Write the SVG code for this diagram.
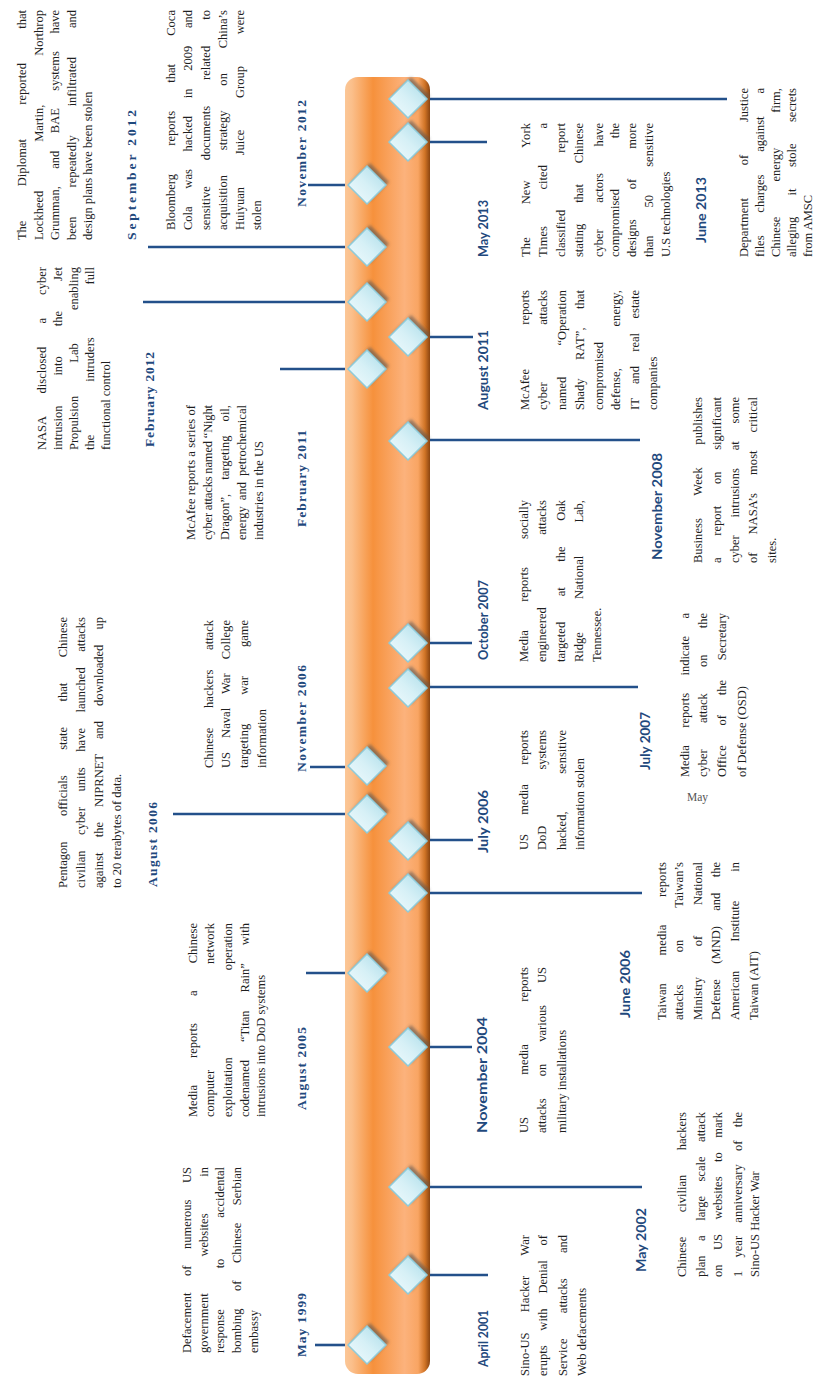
<svg xmlns="http://www.w3.org/2000/svg" width="822" height="1380" viewBox="0 0 822 1380">
<defs>
<style>
.t{font-family:"Liberation Serif","Times New Roman",serif;font-size:12.5px;fill:#1e1e1e}
.ls{font-family:"Liberation Serif","Times New Roman",serif;font-weight:bold;font-size:13.5px;fill:#1f497d}
.lb{font-family:Lato,"Open Sans",sans-serif;font-weight:bold;font-size:13px;fill:#1f497d}
.c{stroke:#23508a;stroke-width:2.6;fill:none}
</style>
<linearGradient id="barG" x1="0" y1="0" x2="0" y2="1">
<stop offset="0" stop-color="#fbc797"/>
<stop offset="0.08" stop-color="#fbbf8b"/>
<stop offset="0.33" stop-color="#f6913c"/>
<stop offset="0.7" stop-color="#fcb27c"/>
<stop offset="0.86" stop-color="#f9a563"/>
<stop offset="0.94" stop-color="#d07426"/>
<stop offset="1" stop-color="#8a4410"/>
</linearGradient>
<linearGradient id="diaG" x1="0" y1="0" x2="1" y2="1">
<stop offset="0" stop-color="#f2fbfd"/>
<stop offset="0.5" stop-color="#d6f0f6"/>
<stop offset="1" stop-color="#a9dbe8"/>
</linearGradient>
<filter id="sh" x="-50%" y="-50%" width="200%" height="200%"><feGaussianBlur stdDeviation="1.4"/></filter>
<g id="dia">
<polygon points="3,-16 22,3 3,22 -16,3" fill="#555" opacity="0.6" filter="url(#sh)"/>
<polygon points="0,-19 19,0 0,19 -19,0" fill="url(#diaG)" stroke="#8fcbd9" stroke-width="1.5"/>
</g>
</defs>
<rect width="822" height="1380" fill="#ffffff"/>
<g transform="matrix(0,-1,1,0,0,1380)">
<g id="timeline-bar">
<rect x="6" y="345" width="1297" height="85" rx="13" fill="url(#barG)"/>
</g>
<g id="connectors">
<line class="c" x1="35" y1="345" x2="35" y2="315"/>
<line class="c" x1="407" y1="345" x2="407" y2="306"/>
<line class="c" x1="566" y1="345" x2="566" y2="173"/>
<line class="c" x1="613" y1="345" x2="613" y2="310"/>
<line class="c" x1="1011" y1="345" x2="1011" y2="280"/>
<line class="c" x1="1078" y1="345" x2="1078" y2="143"/>
<line class="c" x1="1133" y1="345" x2="1133" y2="148"/>
<line class="c" x1="1195" y1="345" x2="1195" y2="308"/>
<line class="c" x1="105" y1="430" x2="105" y2="488"/>
<line class="c" x1="193" y1="430" x2="193" y2="642"/>
<line class="c" x1="333" y1="430" x2="333" y2="472"/>
<line class="c" x1="487" y1="430" x2="487" y2="642"/>
<line class="c" x1="540" y1="430" x2="540" y2="473"/>
<line class="c" x1="693" y1="430" x2="693" y2="638"/>
<line class="c" x1="737" y1="430" x2="737" y2="472"/>
<line class="c" x1="940" y1="430" x2="940" y2="640"/>
<line class="c" x1="1043" y1="430" x2="1043" y2="473"/>
<line class="c" x1="1238" y1="430" x2="1238" y2="487"/>
<line class="c" x1="1281" y1="430" x2="1281" y2="727"/>
</g>

<g id="ev-1999-05">
<use href="#dia" x="35" y="367"/>
<text class="ls" x="23" y="306" textLength="64" lengthAdjust="spacing">May 1999</text>
<text class="t" x="27" y="191" word-spacing="13.5" textLength="186" lengthAdjust="spacing">Defacement of numerous US</text>
<text class="t" x="27" y="208" word-spacing="33.6" textLength="186" lengthAdjust="spacing">government websites in</text>
<text class="t" x="27" y="224" word-spacing="37.8" textLength="186" lengthAdjust="spacing">response to accidental</text>
<text class="t" x="27" y="241" word-spacing="14.4" textLength="186" lengthAdjust="spacing">bombing of Chinese Serbian</text>
<text class="t" x="27" y="258">embassy</text>
</g>

<g id="ev-2001-04">
<use href="#dia" x="105" y="408"/>
<text class="lb" x="13" y="488" textLength="57" lengthAdjust="spacingAndGlyphs">April 2001</text>
<text class="t" x="4" y="529" word-spacing="17" textLength="141" lengthAdjust="spacing">Sino-US Hacker War</text>
<text class="t" x="4" y="547" word-spacing="11.7" textLength="141" lengthAdjust="spacing">erupts with Denial of</text>
<text class="t" x="4" y="567" word-spacing="22.2" textLength="141" lengthAdjust="spacing">Service attacks and</text>
<text class="t" x="4" y="586">Web defacements</text>
</g>

<g id="ev-2002-05">
<use href="#dia" x="193" y="408"/>
<text class="lb" x="108" y="646" textLength="64" lengthAdjust="spacingAndGlyphs">May 2002</text>
<text class="t" x="103" y="686" word-spacing="21.4" textLength="165" lengthAdjust="spacing">Chinese civilian hackers</text>
<text class="t" x="103" y="705" word-spacing="11.4" textLength="165" lengthAdjust="spacing">plan a large scale attack</text>
<text class="t" x="103" y="722" word-spacing="11.4" textLength="165" lengthAdjust="spacing">on US websites to mark</text>
<text class="t" x="103" y="742" word-spacing="10.2" textLength="165" lengthAdjust="spacing">1 year anniversary of the</text>
<text class="t" x="103" y="759">Sino-US Hacker War</text>
</g>

<g id="ev-2004-11">
<use href="#dia" x="333" y="408"/>
<text class="lb" x="247" y="487" textLength="116" lengthAdjust="spacingAndGlyphs">November 2004</text>
<text class="t" x="247" y="528" word-spacing="39.3" textLength="166" lengthAdjust="spacing">US media reports</text>
<text class="t" x="247" y="546" word-spacing="18.9" textLength="166" lengthAdjust="spacing">attacks on various US</text>
<text class="t" x="247" y="566">military installations</text>
</g>

<g id="ev-2005-08">
<use href="#dia" x="407" y="367"/>
<text class="ls" x="270" y="306" textLength="83" lengthAdjust="spacing">August 2005</text>
<text class="t" x="263" y="197" word-spacing="24" textLength="194" lengthAdjust="spacing">Media reports a Chinese</text>
<text class="t" x="263" y="214" word-spacing="102.7" textLength="194" lengthAdjust="spacing">computer network</text>
<text class="t" x="263" y="232" word-spacing="83.9" textLength="194" lengthAdjust="spacing">exploitation operation</text>
<text class="t" x="263" y="249" word-spacing="14.8" textLength="194" lengthAdjust="spacing">codenamed “Titan Rain” with</text>
<text class="t" x="263" y="265">intrusions into DoD systems</text>
</g>

<g id="ev-2006-06">
<use href="#dia" x="487" y="408"/>
<text class="lb" x="362" y="630" textLength="68" lengthAdjust="spacingAndGlyphs">June 2006</text>
<text class="t" x="360" y="666" word-spacing="24.5" textLength="158" lengthAdjust="spacing">Taiwan media reports</text>
<text class="t" x="360" y="683" word-spacing="29" textLength="158" lengthAdjust="spacing">attacks on Taiwan’s</text>
<text class="t" x="360" y="702" word-spacing="27.6" textLength="158" lengthAdjust="spacing">Ministry of National</text>
<text class="t" x="360" y="720" word-spacing="12.3" textLength="158" lengthAdjust="spacing">Defense (MND) and the</text>
<text class="t" x="360" y="739" word-spacing="25.9" textLength="158" lengthAdjust="spacing">American Institute in</text>
<text class="t" x="360" y="758">Taiwan (AIT)</text>
</g>

<g id="ev-2006-07">
<use href="#dia" x="539" y="408"/>
<text class="lb" x="527" y="488" textLength="63" lengthAdjust="spacingAndGlyphs">July 2006</text>
<text class="t" x="530" y="528" word-spacing="16.3" textLength="120" lengthAdjust="spacing">US media reports</text>
<text class="t" x="530" y="546" word-spacing="53" textLength="120" lengthAdjust="spacing">DoD systems</text>
<text class="t" x="530" y="566" word-spacing="34.6" textLength="120" lengthAdjust="spacing">hacked, sensitive</text>
<text class="t" x="530" y="584">information stolen</text>
</g>

<g id="ev-2006-08">
<use href="#dia" x="566" y="367"/>
<text class="ls" x="493" y="157" textLength="85" lengthAdjust="spacing">August 2006</text>
<text class="t" x="492" y="67" word-spacing="22.3" textLength="271" lengthAdjust="spacing">Pentagon officials state that Chinese</text>
<text class="t" x="492" y="85" word-spacing="12.5" textLength="271" lengthAdjust="spacing">civilian cyber units have launched attacks</text>
<text class="t" x="492" y="103" word-spacing="12" textLength="271" lengthAdjust="spacing">against the NIPRNET and downloaded up</text>
<text class="t" x="492" y="121">to 20 terabytes of data.</text>
</g>

<g id="ev-2006-11">
<use href="#dia" x="614" y="367"/>
<text class="ls" x="608" y="306" textLength="107" lengthAdjust="spacing">November 2006</text>
<text class="t" x="612" y="213" word-spacing="16.7" textLength="148" lengthAdjust="spacing">Chinese hackers attack</text>
<text class="t" x="612" y="230" word-spacing="10.8" textLength="148" lengthAdjust="spacing">US Naval War College</text>
<text class="t" x="612" y="248" word-spacing="25.8" textLength="148" lengthAdjust="spacing">targeting war game</text>
<text class="t" x="612" y="266">information</text>
</g>

<g id="ev-2007-07">
<use href="#dia" x="692" y="408"/>
<text class="lb" x="610" y="650" textLength="58" lengthAdjust="spacingAndGlyphs">July 2007</text>
<text class="t" x="603" y="689" word-spacing="14.3" textLength="164" lengthAdjust="spacing">Media reports indicate a</text>
<text class="t" x="603" y="707" word-spacing="23.1" textLength="164" lengthAdjust="spacing">cyber attack on the</text>
<text class="t" x="603" y="726" word-spacing="16.6" textLength="164" lengthAdjust="spacing">Office of the Secretary</text>
<text class="t" x="603" y="746">of Defense (OSD)</text>
</g>

<g id="ev-2007-10">
<use href="#dia" x="737" y="408"/>
<text class="lb" x="720" y="488" textLength="80" lengthAdjust="spacingAndGlyphs">October 2007</text>
<text class="t" x="718" y="528" word-spacing="25.1" textLength="162" lengthAdjust="spacing">Media reports socially</text>
<text class="t" x="718" y="546" word-spacing="69.3" textLength="162" lengthAdjust="spacing">engineered attacks</text>
<text class="t" x="718" y="565" word-spacing="22.4" textLength="162" lengthAdjust="spacing">targeted at the Oak</text>
<text class="t" x="718" y="583" word-spacing="30.1" textLength="162" lengthAdjust="spacing">Ridge National Lab,</text>
<text class="t" x="718" y="601">Tennessee.</text>
</g>

<g id="ev-2008-11">
<use href="#dia" x="939" y="408"/>
<text class="lb" x="820" y="662" textLength="107" lengthAdjust="spacingAndGlyphs">November 2008</text>
<text class="t" x="817" y="702" word-spacing="19.5" textLength="166" lengthAdjust="spacing">Business Week publishes</text>
<text class="t" x="817" y="721" word-spacing="18.7" textLength="166" lengthAdjust="spacing">a report on significant</text>
<text class="t" x="817" y="739" word-spacing="14.7" textLength="166" lengthAdjust="spacing">cyber intrusions at some</text>
<text class="t" x="817" y="757" word-spacing="14.7" textLength="166" lengthAdjust="spacing">of NASA’s most critical</text>
<text class="t" x="817" y="776">sites.</text>
</g>

<g id="ev-2011-02">
<use href="#dia" x="1011" y="367"/>
<text class="ls" x="853" y="306" textLength="97" lengthAdjust="spacing">February 2011</text>
<text class="t" x="840" y="195" textLength="135" lengthAdjust="spacing">McAfee reports a series of</text>
<text class="t" x="840" y="212" textLength="135" lengthAdjust="spacing">cyber attacks named “Night</text>
<text class="t" x="840" y="229" word-spacing="10.9" textLength="135" lengthAdjust="spacing">Dragon”, targeting oil,</text>
<text class="t" x="840" y="246" word-spacing="2.9" textLength="135" lengthAdjust="spacing">energy and petrochemical</text>
<text class="t" x="840" y="263">industries in the US</text>
</g>

<g id="ev-2011-08">
<use href="#dia" x="1043" y="408"/>
<text class="lb" x="970" y="488" textLength="80" lengthAdjust="spacingAndGlyphs">August 2011</text>
<text class="t" x="970" y="529" word-spacing="41.2" textLength="120" lengthAdjust="spacing">McAfee reports</text>
<text class="t" x="970" y="547" word-spacing="54.4" textLength="120" lengthAdjust="spacing">cyber attacks</text>
<text class="t" x="970" y="566" word-spacing="28" textLength="120" lengthAdjust="spacing">named “Operation</text>
<text class="t" x="970" y="584" word-spacing="15" textLength="120" lengthAdjust="spacing">Shady RAT”, that</text>
<text class="t" x="970" y="603">compromised</text>
<text class="t" x="970" y="620" word-spacing="38.4" textLength="120" lengthAdjust="spacing">defense, energy,</text>
<text class="t" x="970" y="639" word-spacing="11.2" textLength="120" lengthAdjust="spacing">IT and real estate</text>
<text class="t" x="970" y="657">companies</text>
</g>

<g id="ev-2012-02">
<use href="#dia" x="1078" y="367"/>
<text class="ls" x="933" y="154" textLength="95" lengthAdjust="spacing">February 2012</text>
<text class="t" x="930" y="46" word-spacing="19.9" textLength="183" lengthAdjust="spacing">NASA disclosed a cyber</text>
<text class="t" x="930" y="62" word-spacing="26.9" textLength="183" lengthAdjust="spacing">intrusion into the Jet</text>
<text class="t" x="930" y="78" word-spacing="30" textLength="183" lengthAdjust="spacing">Propulsion Lab enabling</text>
<text class="t" x="930" y="94" word-spacing="49.8" textLength="183" lengthAdjust="spacing">the intruders full</text>
<text class="t" x="930" y="110">functional control</text>
</g>

<g id="ev-2012-09">
<use href="#dia" x="1133" y="367"/>
<text class="ls" x="1140" y="136" textLength="130" lengthAdjust="spacing">September 2012</text>
<text class="t" x="1140" y="26" word-spacing="31.2" textLength="230" lengthAdjust="spacing">The Diplomat reported that</text>
<text class="t" x="1140" y="42.5" word-spacing="45.8" textLength="230" lengthAdjust="spacing">Lockheed Martin, Northrop</text>
<text class="t" x="1140" y="59" word-spacing="14.4" textLength="230" lengthAdjust="spacing">Grumman, and BAE systems have</text>
<text class="t" x="1140" y="75.5" word-spacing="25.9" textLength="230" lengthAdjust="spacing">been repeatedly infiltrated and</text>
<text class="t" x="1140" y="92">design plans have been stolen</text>
</g>

<g id="ev-2012-11">
<use href="#dia" x="1195" y="367"/>
<text class="ls" x="1173" y="306" textLength="107" lengthAdjust="spacing">November 2012</text>
<text class="t" x="1150" y="175" word-spacing="25.1" textLength="220" lengthAdjust="spacing">Bloomberg reports that Coca</text>
<text class="t" x="1150" y="192" word-spacing="14.6" textLength="220" lengthAdjust="spacing">Cola was hacked in 2009 and</text>
<text class="t" x="1150" y="209.5" word-spacing="23" textLength="220" lengthAdjust="spacing">sensitive documents related to</text>
<text class="t" x="1150" y="227" word-spacing="21.6" textLength="220" lengthAdjust="spacing">acquisition strategy on China’s</text>
<text class="t" x="1150" y="244" word-spacing="28.6" textLength="220" lengthAdjust="spacing">Huiyuan Juice Group were</text>
<text class="t" x="1150" y="261">stolen</text>
</g>

<g id="ev-2013-05">
<use href="#dia" x="1238" y="408"/>
<text class="lb" x="1123" y="488" textLength="57" lengthAdjust="spacingAndGlyphs">May 2013</text>
<text class="t" x="1123" y="530" word-spacing="29.5" textLength="134" lengthAdjust="spacing">The New York</text>
<text class="t" x="1123" y="547" word-spacing="33.3" textLength="134" lengthAdjust="spacing">Times cited a</text>
<text class="t" x="1123" y="565" word-spacing="53.8" textLength="134" lengthAdjust="spacing">classified report</text>
<text class="t" x="1123" y="583" word-spacing="17.7" textLength="134" lengthAdjust="spacing">stating that Chinese</text>
<text class="t" x="1123" y="603" word-spacing="23.3" textLength="134" lengthAdjust="spacing">cyber actors have</text>
<text class="t" x="1123" y="619" word-spacing="47.5" textLength="134" lengthAdjust="spacing">compromised the</text>
<text class="t" x="1123" y="636" word-spacing="27" textLength="134" lengthAdjust="spacing">designs of more</text>
<text class="t" x="1123" y="653" word-spacing="25" textLength="134" lengthAdjust="spacing">than 50 sensitive</text>
<text class="t" x="1123" y="670">U.S technologies</text>
</g>

<g id="ev-2013-06">
<use href="#dia" x="1281" y="408"/>
<text class="lb" x="1137" y="706" textLength="66" lengthAdjust="spacingAndGlyphs">June 2013</text>
<text class="t" x="1123" y="748" word-spacing="29.6" textLength="169" lengthAdjust="spacing">Department of Justice</text>
<text class="t" x="1123" y="764" word-spacing="19.7" textLength="169" lengthAdjust="spacing">files charges against a</text>
<text class="t" x="1123" y="780" word-spacing="31.9" textLength="169" lengthAdjust="spacing">Chinese energy firm,</text>
<text class="t" x="1123" y="796" word-spacing="18.3" textLength="169" lengthAdjust="spacing">alleging it stole secrets</text>
<text class="t" x="1123" y="812">from AMSC</text>
</g>
</g>
<text x="687" y="801" font-family="Liberation Serif, serif" font-size="11.5" fill="#555555">May</text>
</svg>
